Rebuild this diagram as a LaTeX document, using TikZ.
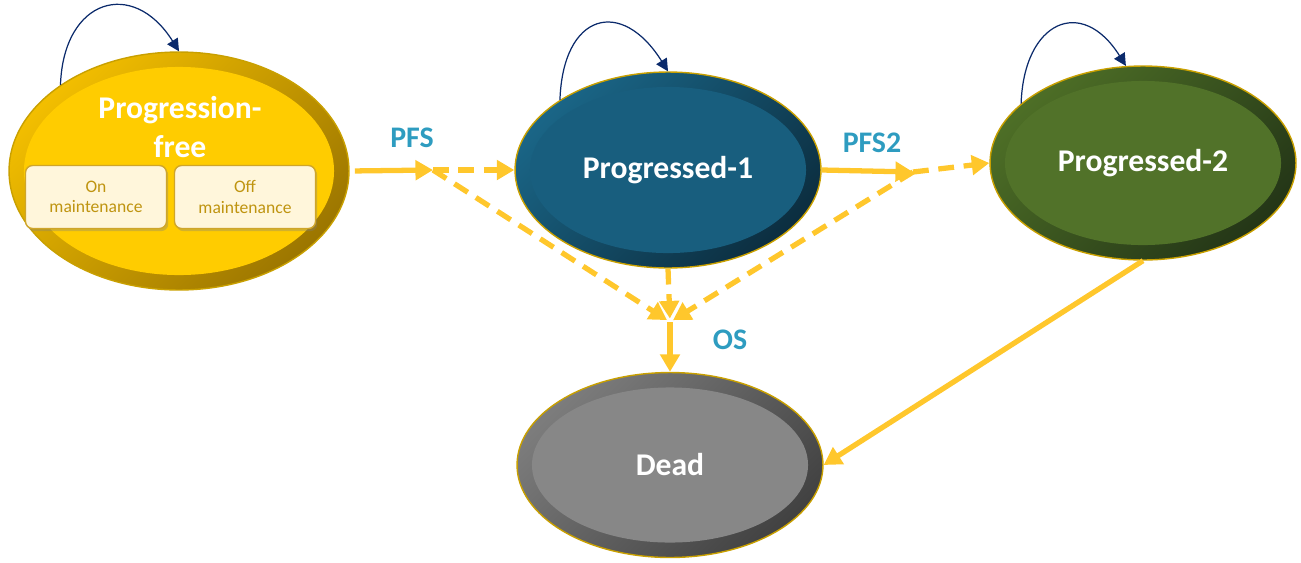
\documentclass[tikz,border=0pt]{standalone}
\usepackage{fontspec}
\setmainfont{Carlito}
\usetikzlibrary{shapes.geometric,arrows.meta,calc,shadows}
\definecolor{flow}{HTML}{FFC72C}
\definecolor{lbl}{HTML}{2E9CC0}
\definecolor{loopc}{HTML}{0B2A6B}
\definecolor{rim}{HTML}{C9A000}
\definecolor{pfin}{HTML}{FFCC00}
\definecolor{pftop}{HTML}{F2BE00}
\definecolor{pfbot}{HTML}{9C7600}
\definecolor{pain}{HTML}{185E7E}
\definecolor{patop}{HTML}{1A6586}
\definecolor{pabot}{HTML}{0C2E40}
\definecolor{pbin}{HTML}{517229}
\definecolor{pbtop}{HTML}{4D6E26}
\definecolor{pbbot}{HTML}{243617}
\definecolor{dein}{HTML}{878787}
\definecolor{detop}{HTML}{7C7C7C}
\definecolor{debot}{HTML}{424242}
\definecolor{boxfill}{HTML}{FFF6DB}
\definecolor{boxline}{HTML}{CFA52A}
\definecolor{boxtext}{HTML}{BF9410}
\begin{document}
\begin{tikzpicture}[x=0.02cm,y=-0.02cm,
  state/.style n args={3}{ellipse,inner sep=0pt,draw=rim,line width=0.8pt,
    top color=#1,bottom color=#2,shading angle=45,
    text=white,font=\bfseries\fontsize{18}{21}\selectfont,align=center,
    path picture={\fill[#3] let \p1=(path picture bounding box.north east),
      \p2=(path picture bounding box.south west) in
      (path picture bounding box.center) ellipse ({(\x1-\x2)/2-8.5pt} and {(\y1-\y2)/2-8.5pt});}},
  maintbox/.style={rectangle,rounded corners=4pt,draw=boxline,line width=0.8pt,fill=boxfill,
    minimum width=2.82cm,minimum height=1.26cm,inner sep=0pt,align=center,text=boxtext,
    font=\fontsize{10}{11.5}\selectfont,
    drop shadow={shadow xshift=1pt,shadow yshift=-1.5pt,opacity=0.35}},
  flowline/.style={draw=flow,line width=3pt,-{Triangle[length=10pt,width=11pt]}},
  dashflow/.style={flowline,dash pattern=on 9pt off 5.5pt},
  loopline/.style={draw=loopc,line width=0.7pt,-{Triangle[length=7pt,width=7pt]}},
  flowlabel/.style={text=lbl,font=\bfseries\fontsize{17}{20}\selectfont}]
\useasboundingbox (0,0) rectangle (1301,562);

\node[state={pftop}{pfbot}{pfin},minimum width=6.8cm,minimum height=4.76cm] (pf) at (179,171) {};
\node[text=white,font=\bfseries\fontsize{18}{22}\selectfont,align=center] (pftext) at (180,127) {Progression-\\free};
\node[maintbox] (onmaint) at (96,197) {On\\maintenance};
\node[maintbox] (offmaint) at (245,197) {Off\\maintenance};
\node[state={patop}{pabot}{pain},minimum width=6.12cm,minimum height=3.92cm] (p1) at (668,170) {Progressed-1};
\node[state={pbtop}{pbbot}{pbin},minimum width=6.12cm,minimum height=3.88cm] (p2) at (1143,163) {Progressed-2};
\node[state={detop}{debot}{dein},minimum width=6.12cm,minimum height=3.7cm] (dead) at (670,465) {Dead};

\coordinate (pfsjoin) at (433,170);
\coordinate (pfstwojoin) at (913,172);
\coordinate (osjoin) at (670,322);

\draw[flowline,shorten <=3pt] (pf.east) -- (pfsjoin);
\draw[dashflow] (pfsjoin) -- (p1.west);
\draw[dashflow,shorten >=2pt] (pfsjoin) -- (osjoin);
\draw[dashflow,shorten >=2pt] (p1.south) -- (osjoin);
\draw[flowline] (p1.east) -- (pfstwojoin);
\draw[dashflow] (pfstwojoin) -- (p2.west);
\draw[dashflow,shorten >=2pt] (pfstwojoin) -- (osjoin);
\draw[flowline] (osjoin) -- (dead.north);
\draw[flowline] (p2.south) -- (dead.east);

\node[flowlabel] (pfslbl) at (412,138) {PFS};
\node[flowlabel] (pfstwolbl) at (872,143) {PFS2};
\node[flowlabel] (oslbl) at (730,340) {OS};

\draw[loopline] (pf.144) to[out=88,in=122,looseness=1.8] (pf.north);
\draw[loopline] (p1.147) to[out=88,in=122,looseness=2] (p1.north);
\draw[loopline] (p2.154) to[out=88,in=122,looseness=1.9] (p2.100);
\end{tikzpicture}
\end{document}
